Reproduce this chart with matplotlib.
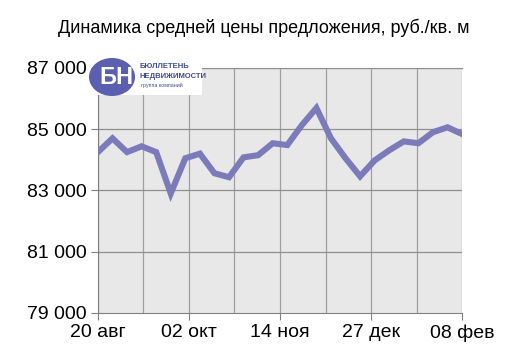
import numpy as np
import matplotlib
matplotlib.use('Agg')
import matplotlib.pyplot as plt
from matplotlib.patches import Ellipse, Rectangle

plt.rcParams['font.family'] = ['Liberation Sans', 'DejaVu Sans']

# weekly average offer price, rub per sq. m
prices = [84250, 84700, 84250, 84440, 84250, 82900, 84050, 84200, 83560, 83430,
          84080, 84150, 84540, 84480, 85130, 85690, 84700, 84050, 83460, 83980,
          84310, 84600, 84540, 84900, 85060, 84840]
tick_labels = ['20 авг', '02 окт', '14 ноя', '27 дек', '08 фев']
y_ticks = [79000, 81000, 83000, 85000, 87000]

x = np.arange(len(prices))
n = len(prices) - 1

fig = plt.figure(figsize=(5.1, 3.61), dpi=100)
ax = fig.add_axes([0.192, 0.133, 0.714, 0.679])
ax.set_facecolor('#e8e8e8')

# background grid
for gx in np.arange(0, n + 0.01, n / 8):
    ax.axvline(gx, color='#a0a0a0', linewidth=0.9, zorder=1)
for gy in y_ticks[1:]:
    ax.axhline(gy, color='#909090', linewidth=0.9, zorder=1)

ax.plot(x, prices, color='#7b7bbb', linewidth=4.4, solid_joinstyle='miter', zorder=3)

ax.set_xlim(0, n)
ax.set_ylim(79000, 87000)
ax.set_yticks(y_ticks)
ax.set_yticklabels([f'{v:,}'.replace(',', ' ') for v in y_ticks], fontsize=14)
ax.set_xticks(np.linspace(0, n, len(tick_labels)))
ax.set_xticklabels(tick_labels, fontsize=14)
ax.tick_params(axis='both', direction='out', length=5, color='#808080', pad=3)

ax.spines['right'].set_visible(False)
ax.spines['top'].set_color('#909090')
ax.spines['left'].set_color('#808080')
ax.spines['bottom'].set_color('#808080')

fig.text(0.518, 0.922, 'Динамика средней цены предложения, руб./кв. м',
         ha='center', va='center', fontsize=13)

# logo
fig.patches.append(Rectangle((96 / 510, 1 - 95 / 361), 106 / 510, 38 / 361,
                             transform=fig.transFigure, facecolor='white',
                             edgecolor='none', zorder=5))
fig.patches.append(Ellipse((112 / 510, 1 - 77 / 361), 46 / 510, 38 / 361,
                           transform=fig.transFigure, facecolor='#5b5fb0',
                           edgecolor='none', zorder=6))
fig.text(116 / 510, 1 - 78 / 361, 'БН', ha='center', va='center', fontsize=17,
         fontweight='bold', color='white', zorder=7)
fig.text(140 / 510, 1 - 67 / 361, 'БЮЛЛЕТЕНЬ', ha='left', va='center',
         fontsize=5.5, fontweight='bold', color='#3f4a98', zorder=7)
fig.text(140 / 510, 1 - 76 / 361, 'НЕДВИЖИМОСТИ', ha='left', va='center',
         fontsize=5.5, fontweight='bold', color='#3f4a98', zorder=7)
fig.text(141 / 510, 1 - 85 / 361, 'группа компаний', ha='left', va='center',
         fontsize=3.8, color='#3f4a98', zorder=7)

fig.savefig('out.png', dpi=100)
